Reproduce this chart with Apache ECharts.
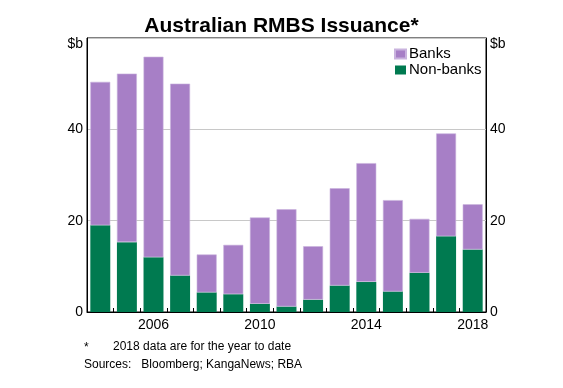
<!DOCTYPE html>
<html><head><meta charset="utf-8">
<script src="https://cdn.jsdelivr.net/npm/echarts@6/dist/echarts.min.js"></script>
<style>html,body{margin:0;padding:0;background:#fff}#c{width:563px;height:388px}</style>
</head><body><div id="c"></div>
<script>
const years = ['2004','2005','2006','2007','2008','2009','2010','2011','2012','2013','2014','2015','2016','2017','2018'];
const nonBanks = [19.0,15.3,12.0,8.0,4.3,3.9,1.8,1.2,2.7,5.8,6.6,4.5,8.6,16.6,13.7];
const banks = [31.4,36.9,43.9,42.0,8.3,10.8,18.9,21.3,11.7,21.3,26.0,20.0,11.8,22.5,9.9];
const yTicks = [0,20,40,60];
const shownYears = ['2006','2010','2014','2018'];

const chart = echarts.init(document.getElementById('c'));
const font = 'Liberation Sans, Arial, sans-serif';
const yAxisCommon = {
  type:'value', min:0, max:60, interval:20,
  axisLine:{show:true, lineStyle:{color:'#000', width:1}},
  axisTick:{show:false},
  splitLine:{show:true, lineStyle:{color:'#c8c8c8', width:1}},
  axisLabel:{color:'#000', fontSize:14, fontFamily:font, margin:4,
    formatter:v => v===60 ? '{u|$b}' : (yTicks.includes(v) ? String(v) : ''),
    rich:{u:{fontSize:14, fontFamily:font, color:'#000', padding:[13,0,0,0]}}}
};
chart.setOption({
  animation:false,
  title:{text:'Australian RMBS Issuance*', left:'center', top:11,
    textStyle:{fontFamily:font, fontWeight:'bold', fontSize:21, color:'#000'}},
  legend:{data:['Banks','Non-banks'], orient:'vertical', left:389, top:41,
    itemWidth:11, itemHeight:9, itemGap:0, icon:'rect',
    textStyle:{fontFamily:font, fontSize:15, lineHeight:16, color:'#000', padding:[0,0,0,-2]}},
  grid:{left:87, right:77, top:38, bottom:76, show:true, borderColor:'#000', borderWidth:1},
  xAxis:{type:'category', data:years, boundaryGap:true,
    axisLine:{lineStyle:{color:'#000'}},
    axisTick:{show:true, inside:true, length:4, interval:0, lineStyle:{color:'#000'}},
    axisLabel:{color:'#000', fontSize:14, fontFamily:font, margin:6, interval:0,
      formatter:v => shownYears.includes(v) ? v : ''}},
  yAxis:[Object.assign({position:'left'}, yAxisCommon),
         Object.assign({position:'right'}, yAxisCommon, {splitLine:{show:false}})],
  series:[
    {name:'Non-banks', type:'bar', stack:'t', data:nonBanks, barWidth:'75%',
      itemStyle:{color:'#007A50'}},
    {name:'Banks', type:'bar', stack:'t', data:banks, barWidth:'75%',
      itemStyle:{color:'#A77FC6', borderColor:'#c9b3de', borderWidth:0.6}}
  ],
  graphic:[
    {type:'text', left:84, top:342, style:{text:'*', font:'12px '+font, fill:'#000'}},
    {type:'text', left:113, top:341, style:{text:'2018 data are for the year to date', font:'12px '+font, fill:'#000'}},
    {type:'text', left:84, top:359, style:{text:'Sources:   Bloomberg; KangaNews; RBA', font:'12px '+font, fill:'#000'}}
  ]
});
</script></body></html>
